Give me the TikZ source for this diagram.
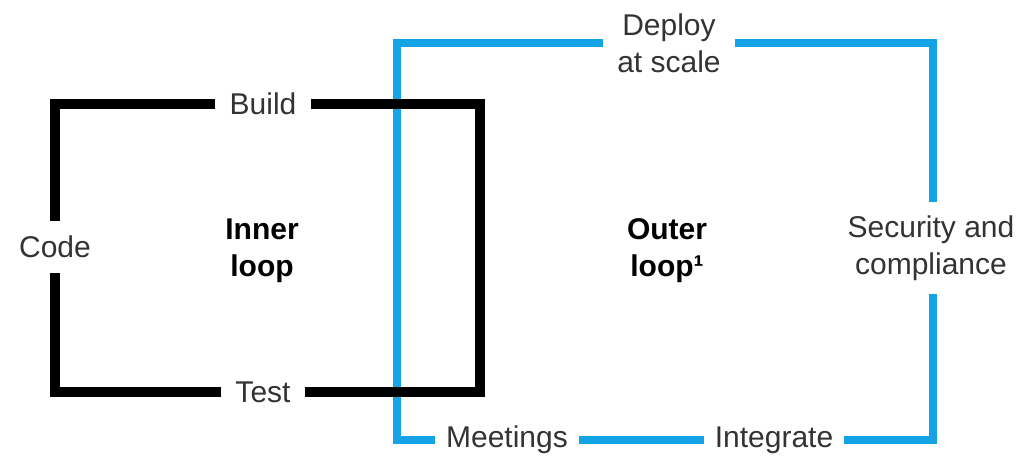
\documentclass[tikz,border=0pt]{standalone}
\usepackage{fontspec}
\setmainfont{Liberation Sans}
\definecolor{loopblue}{RGB}{22,163,230}
\definecolor{labelgray}{RGB}{51,51,51}
\begin{document}
\begin{tikzpicture}[x=1pt,y=-1pt,
  label/.style={font=\fontsize{30}{37}\selectfont, text=labelgray, inner xsep=14pt, inner ysep=15pt, align=center},
  title/.style={font=\fontsize{30}{37}\selectfont\bfseries, text=black, align=center},
  innerline/.style={line width=9.5pt, black, line join=miter},
  outerline/.style={line width=8pt, loopblue, line join=miter}]
\useasboundingbox (0,0) rectangle (1024,465);

% outer loop (blue)
\coordinate (oTL) at (397,43);
\coordinate (oTR) at (933,43);
\coordinate (oBR) at (933,440);
\coordinate (oBL) at (397,440);
\node[label] (deploy) at (669,43) {Deploy\\at scale};
\node[label, inner ysep=13pt] (security) at (931,248) {Security and\\compliance};
\node[label, inner xsep=11pt] (integrate) at (774,440) {Integrate};
\node[label, inner xsep=11pt] (meetings) at (507,440) {Meetings};
\draw[outerline] (deploy.east) -| (oTR) -- (oTR |- security.north);
\draw[outerline] (oBR |- security.south) -- (oBR) -- (integrate.east);
\draw[outerline] (integrate.west) -- (meetings.east);
\draw[outerline] (meetings.west) -| (oTL) -- (deploy.west);

% inner loop (black)
\coordinate (iBR) at (480,392);
\node[label] (build) at (263,104) {Build};
\node[label] (code) at (55,247) {Code};
\node[label] (test) at (263,392) {Test};
\draw[innerline] (build.west) -| (code.north);
\draw[innerline] (code.south) |- (test.west);
\draw[innerline] (test.east) -| (iBR |- build.east) -- (build.east);

% loop titles
\node[title] (inner) at (262,251) {Inner\\loop};
\node[title] (outer) at (667,251) {Outer\\loop¹};
\end{tikzpicture}
\end{document}
